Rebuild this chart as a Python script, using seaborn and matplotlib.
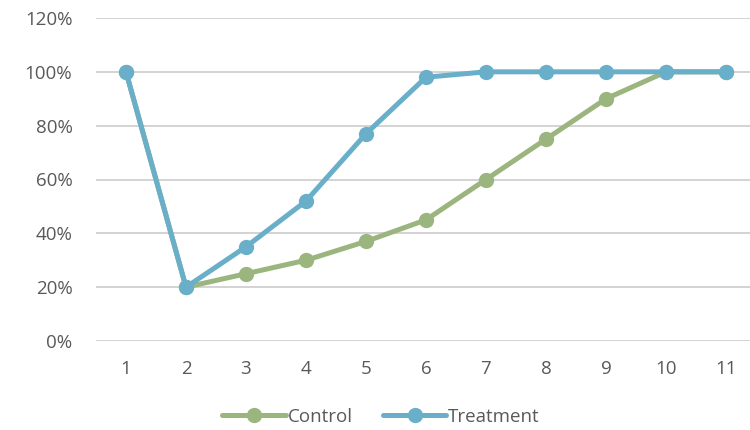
import matplotlib
matplotlib.use("Agg")
import matplotlib.pyplot as plt
import seaborn as sns
import pandas as pd
from matplotlib.ticker import FuncFormatter

days = [1, 2, 3, 4, 5, 6, 7, 8, 9, 10, 11]
control = [100, 20, 25, 30, 37, 45, 60, 75, 90, 100, 100]
treatment = [100, 20, 35, 52, 77, 98, 100, 100, 100, 100, 100]
series_names = ["Control", "Treatment"]
y_ticks = [0, 20, 40, 60, 80, 100, 120]

df = pd.DataFrame({
    "x": days * 2,
    "y": control + treatment,
    "series": [series_names[0]] * len(days) + [series_names[1]] * len(days),
})

sns.set_theme(style="white")
plt.rcParams["font.family"] = ["Open Sans", "DejaVu Sans"]

fig = plt.figure(figsize=(7.5, 4.3), dpi=100)
ax = fig.add_axes([96 / 750, (430 - 341) / 430, (750 - 96) / 750, (341 - 18) / 430])

palette = {"Control": "#9BB57E", "Treatment": "#6AAFC9"}
sns.lineplot(data=df, x="x", y="y", hue="series", palette=palette, marker="o",
             markersize=11, linewidth=3.6, markeredgewidth=0, ax=ax, legend=True)

ax.set_xlim(0.5, 0.5 + 654 / 60)
ax.set_ylim(0, 120)
ax.set_yticks(y_ticks)
ax.yaxis.set_major_formatter(FuncFormatter(lambda v, p: f"{int(v)}%"))
ax.set_xticks(days)
ax.grid(axis="y", color="#D0D0D0", linewidth=1.3)
ax.grid(axis="x", visible=False)
for s in ax.spines.values():
    s.set_visible(False)
ax.tick_params(axis="both", length=0, labelsize=13.5, colors="#595959")
ax.tick_params(axis="x", pad=14)
ax.tick_params(axis="y", pad=17)
ax.set_xlabel("")
ax.set_ylabel("")
ax.set_axisbelow(True)

leg = ax.legend(loc="lower center", bbox_to_anchor=(0.5 - 42 / 654, -0.315), ncol=2,
                frameon=False, fontsize=13.5, handlelength=3.4, handletextpad=0.1,
                columnspacing=1.6)
for t in leg.get_texts():
    t.set_color("#595959")

fig.savefig("out.png", dpi=100)
